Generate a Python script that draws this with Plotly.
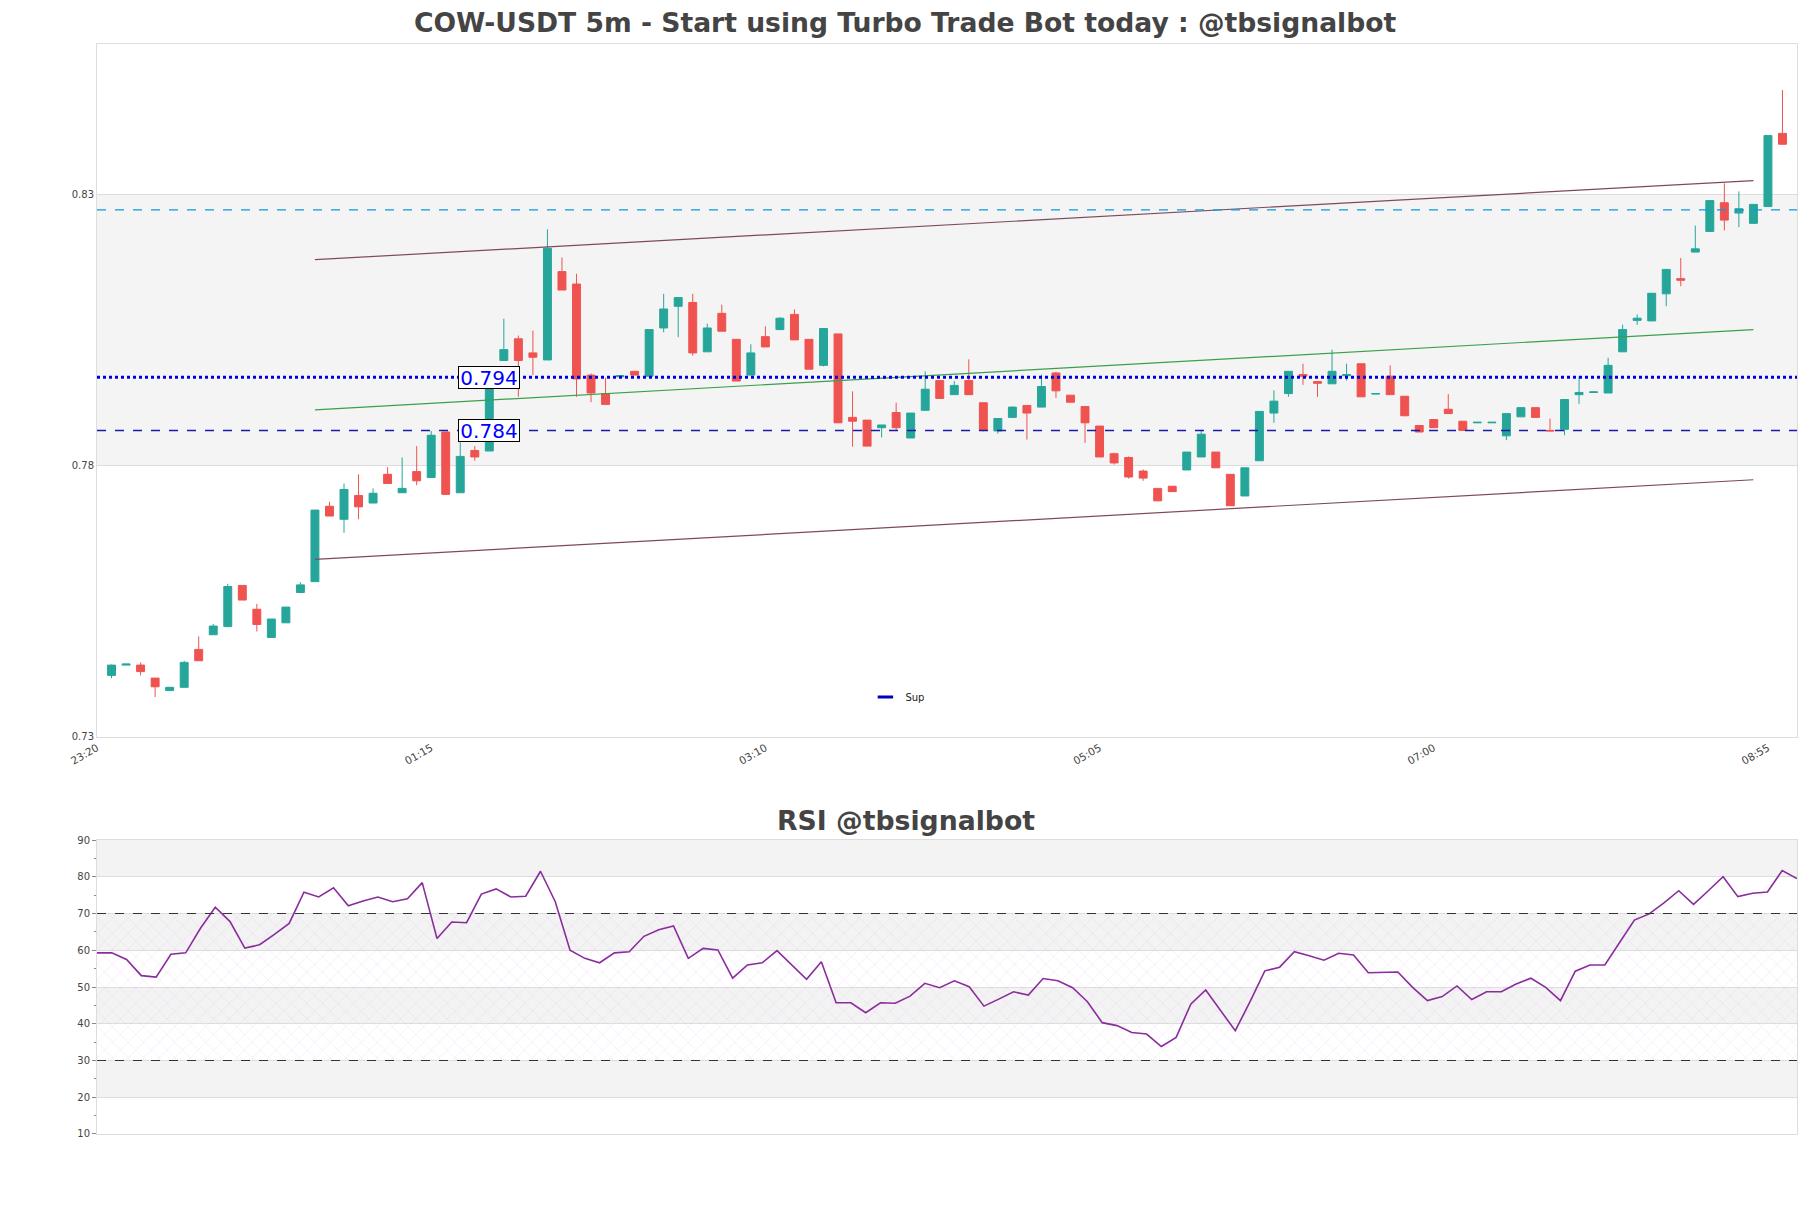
import pandas as pd
import plotly.graph_objects as go

# ---------------- data ----------------
start_time = "2024-11-14 23:25"
n_candles = 116

open_ = [0.7413, 0.7432, 0.7432, 0.7408, 0.7385, 0.7391, 0.7461, 0.7488, 0.7503, 0.7579,
         0.7535, 0.7483, 0.7510, 0.7566, 0.7586, 0.7725, 0.7701, 0.7745, 0.7731, 0.7784,
         0.7750, 0.7789, 0.7778, 0.7862, 0.7750, 0.7828, 0.7827, 0.7994, 0.8034, 0.8008,
         0.7995, 0.8158, 0.8135, 0.7967, 0.7933, 0.7964, 0.7974, 0.7965, 0.8054, 0.8094,
         0.8101, 0.8010, 0.8081, 0.8033, 0.7967, 0.8038, 0.8051, 0.8079, 0.8033, 0.7985,
         0.8043, 0.7889, 0.7884, 0.7870, 0.7898, 0.7851, 0.7902, 0.7957, 0.7931, 0.7957,
         0.7916, 0.7864, 0.7889, 0.7911, 0.7908, 0.7971, 0.7930, 0.7909, 0.7873, 0.7822,
         0.7815, 0.7790, 0.7758, 0.7762, 0.7792, 0.7816, 0.7825, 0.7784, 0.7744, 0.7809,
         0.7897, 0.7933, 0.7968, 0.7955, 0.7951, 0.7966, 0.7988, 0.7932, 0.7965, 0.7928,
         0.7874, 0.7885, 0.7904, 0.7882, 0.7879, 0.7879, 0.7855, 0.7890, 0.7907, 0.7865,
         0.7867, 0.7931, 0.7935, 0.7934, 0.8010, 0.8068, 0.8067, 0.8117, 0.8145, 0.8194,
         0.8232, 0.8285, 0.8266, 0.8247, 0.8278, 0.8413]
high = [0.7433, 0.7434, 0.7437, 0.7408, 0.7391, 0.7440, 0.7485, 0.7508, 0.7582, 0.7579,
        0.7545, 0.7517, 0.7539, 0.7585, 0.7718, 0.7733, 0.7767, 0.7784, 0.7758, 0.7797,
        0.7815, 0.7836, 0.7864, 0.7862, 0.7846, 0.7836, 0.7975, 0.8071, 0.8040, 0.8049,
        0.8236, 0.8184, 0.8154, 0.7970, 0.7962, 0.7967, 0.7974, 0.8051, 0.8117, 0.8110,
        0.8117, 0.8062, 0.8097, 0.8033, 0.8024, 0.8057, 0.8074, 0.8088, 0.8033, 0.8053,
        0.8043, 0.7937, 0.7884, 0.7875, 0.7916, 0.7897, 0.7974, 0.7957, 0.7956, 0.7996,
        0.7916, 0.7887, 0.7909, 0.7911, 0.7968, 0.7973, 0.7930, 0.7909, 0.7873, 0.7824,
        0.7817, 0.7793, 0.7758, 0.7762, 0.7825, 0.7866, 0.7825, 0.7784, 0.7796, 0.7900,
        0.7939, 0.7974, 0.7988, 0.7955, 0.8014, 0.7988, 0.7988, 0.7933, 0.7985, 0.7928,
        0.7874, 0.7885, 0.7932, 0.7882, 0.7880, 0.7880, 0.7896, 0.7907, 0.7907, 0.7887,
        0.7922, 0.7965, 0.7936, 0.7999, 0.8060, 0.8079, 0.8118, 0.8162, 0.8183, 0.8243,
        0.8289, 0.8321, 0.8306, 0.8282, 0.8409, 0.8493]
low = [0.7408, 0.7432, 0.7413, 0.7373, 0.7385, 0.7391, 0.7440, 0.7488, 0.7502, 0.7552,
       0.7494, 0.7483, 0.7510, 0.7566, 0.7586, 0.7707, 0.7676, 0.7701, 0.7731, 0.7767,
       0.7750, 0.7764, 0.7778, 0.7746, 0.7750, 0.7809, 0.7827, 0.7994, 0.7927, 0.7967,
       0.7995, 0.8124, 0.7927, 0.7917, 0.7913, 0.7964, 0.7967, 0.7965, 0.8046, 0.8037,
       0.8003, 0.8010, 0.8048, 0.7956, 0.7967, 0.8019, 0.8050, 0.8032, 0.7978, 0.7983,
       0.7879, 0.7835, 0.7836, 0.7852, 0.7865, 0.7851, 0.7902, 0.7923, 0.7931, 0.7931,
       0.7863, 0.7859, 0.7889, 0.7848, 0.7908, 0.7925, 0.7917, 0.7842, 0.7816, 0.7802,
       0.7776, 0.7772, 0.7735, 0.7752, 0.7792, 0.7816, 0.7796, 0.7726, 0.7744, 0.7809,
       0.7879, 0.7927, 0.7949, 0.7927, 0.7951, 0.7957, 0.7927, 0.7932, 0.7931, 0.7892,
       0.7862, 0.7870, 0.7896, 0.7865, 0.7879, 0.7879, 0.7847, 0.7890, 0.7889, 0.7864,
       0.7856, 0.7914, 0.7935, 0.7934, 0.8010, 0.8060, 0.8067, 0.8094, 0.8131, 0.8194,
       0.8232, 0.8234, 0.8240, 0.8247, 0.8278, 0.8393]
close = [0.7432, 0.7434, 0.7420, 0.7392, 0.7391, 0.7437, 0.7440, 0.7504, 0.7577, 0.7552,
         0.7507, 0.7517, 0.7539, 0.7580, 0.7718, 0.7707, 0.7756, 0.7724, 0.7749, 0.7767,
         0.7758, 0.7772, 0.7856, 0.7747, 0.7817, 0.7816, 0.7975, 0.8014, 0.7994, 0.8000,
         0.8201, 0.8124, 0.7960, 0.7934, 0.7913, 0.7966, 0.7967, 0.8051, 0.8089, 0.8110,
         0.8008, 0.8054, 0.8048, 0.7956, 0.8008, 0.8019, 0.8072, 0.8032, 0.7978, 0.8053,
         0.7879, 0.7882, 0.7836, 0.7875, 0.7870, 0.7897, 0.7941, 0.7924, 0.7948, 0.7931,
         0.7865, 0.7887, 0.7908, 0.7897, 0.7946, 0.7938, 0.7917, 0.7879, 0.7816, 0.7805,
         0.7779, 0.7777, 0.7735, 0.7752, 0.7825, 0.7858, 0.7796, 0.7726, 0.7796, 0.7900,
         0.7919, 0.7974, 0.7965, 0.7952, 0.7974, 0.7968, 0.7927, 0.7933, 0.7931, 0.7892,
         0.7862, 0.7870, 0.7896, 0.7865, 0.7880, 0.7880, 0.7896, 0.7907, 0.7889, 0.7864,
         0.7922, 0.7935, 0.7936, 0.7985, 0.8051, 0.8072, 0.8118, 0.8162, 0.8142, 0.8200,
         0.8289, 0.8253, 0.8274, 0.8282, 0.8409, 0.8393]

rsi = [59.3, 59.3, 57.5, 53.1, 52.7, 58.9, 59.3, 66.0, 71.7, 67.8,
       60.6, 61.5, 64.3, 67.3, 75.8, 74.5, 77.0, 72.1, 73.4, 74.5,
       73.2, 74.0, 78.4, 63.2, 67.7, 67.5, 75.3, 76.7, 74.5, 74.7,
       81.5, 73.2, 60.0, 57.8, 56.6, 59.3, 59.6, 63.8, 65.6, 66.6,
       57.8, 60.5, 60.1, 52.4, 56.0, 56.6, 59.9, 56.0, 52.1, 56.9,
       45.7, 45.7, 43.0, 45.7, 45.6, 47.5, 51.0, 49.8, 51.7, 50.1,
       44.8, 46.7, 48.7, 47.8, 52.3, 51.7, 49.8, 46.0, 40.3, 39.5,
       37.6, 37.2, 33.8, 36.3, 45.4, 49.2, 43.7, 38.1, 46.0, 54.4,
       55.4, 59.6, 58.5, 57.3, 59.2, 58.7, 53.9, 54.1, 54.1, 49.9,
       46.3, 47.4, 50.3, 46.6, 48.7, 48.7, 50.8, 52.4, 49.9, 46.3,
       54.3, 56.0, 56.0, 62.1, 68.2, 69.9, 72.9, 76.2, 72.5, 76.2,
       80.0, 74.6, 75.5, 75.85, 81.7, 79.5]

# horizontal levels
res_level = 0.7963          # dotted blue line
sup_level = 0.7865          # dashed dark-blue line ("Sup")
top_level = 0.8272          # dashed light-blue line
res_label = "0.794"
sup_label = "0.784"
label_candle = 26

# regression channel (candle index, price)
chan_i0, chan_i1 = 14, 113
chan_upper = [0.8180, 0.8326]
chan_mid = [0.7903, 0.8051]
chan_lower = [0.7627, 0.7774]

y_range = [0.72993, 0.85779]
y_ticks = [0.73, 0.78, 0.83]
x_tick_labels = ["23:20", "01:15", "03:10", "05:05", "07:00", "08:55"]
rsi_ticks = [10, 20, 30, 40, 50, 60, 70, 80, 90]

title_text = "COW-USDT 5m - Start using Turbo Trade Bot today : @tbsignalbot"
rsi_title = "RSI @tbsignalbot"

# ---------------- build ----------------
t0 = pd.Timestamp(start_time)
step = pd.Timedelta(minutes=5)
times = [t0 + step * i for i in range(n_candles)]
day0 = t0.normalize()


def tick_time(lbl):
    hh, mm = map(int, lbl.split(":"))
    t = day0 + pd.Timedelta(hours=hh, minutes=mm)
    if t < t0 - step * 2:
        t += pd.Timedelta(days=1)
    return t


x_tickvals = [tick_time(s) for s in x_tick_labels]

FONT = "DejaVu Sans"
GREY = "#444444"
UP = "#26a69a"
DOWN = "#ef5350"

fig = go.Figure()

# RSI hatch region 30-70 (drawn first so line is on top)
fig.add_trace(go.Scatter(
    x=[times[0], times[-1], times[-1], times[0], times[0]],
    y=[30, 30, 70, 70, 30],
    fill="toself", mode="none", hoverinfo="skip", showlegend=False,
    fillcolor="rgba(0,0,0,0)",
    fillpattern=dict(shape="x", fgcolor="rgba(215,165,235,0.6)", bgcolor="rgba(0,0,0,0)",
                     size=11, solidity=0.1),
    xaxis="x2", yaxis="y2",
))

fig.add_trace(go.Candlestick(
    x=times, open=open_, high=high, low=low, close=close,
    increasing=dict(line=dict(color=UP, width=1), fillcolor=UP),
    decreasing=dict(line=dict(color=DOWN, width=1), fillcolor=DOWN),
    showlegend=False, xaxis="x", yaxis="y",
))

# regression channel
for vals, col in [(chan_upper, "#7d4a5c"), (chan_mid, "#3aa04a"), (chan_lower, "#7d4a5c")]:
    fig.add_trace(go.Scatter(
        x=[times[chan_i0], times[chan_i1]], y=vals, mode="lines",
        line=dict(color=col, width=1.2), showlegend=False, hoverinfo="skip",
        xaxis="x", yaxis="y",
    ))

# legend-only entry
fig.add_trace(go.Scatter(
    x=[None], y=[None], mode="markers", name="Sup",
    marker=dict(symbol="line-ew-open", size=11, color="#0000c0",
                line=dict(color="#0000c0", width=3)),
    xaxis="x", yaxis="y",
))

# RSI line
fig.add_trace(go.Scatter(
    x=times, y=rsi, mode="lines", line=dict(color="#8a2d9c", width=1.6),
    showlegend=False, xaxis="x2", yaxis="y2",
))

shapes = []
# background bands
shapes.append(dict(type="rect", xref="x domain", yref="y", x0=0, x1=1, y0=0.78, y1=0.83,
                   fillcolor="#f4f4f4", line=dict(width=0), layer="below"))
for lo, hi in [(80, 90), (60, 70), (40, 50), (20, 30)]:
    shapes.append(dict(type="rect", xref="x2 domain", yref="y2", x0=0, x1=1, y0=lo, y1=hi,
                       fillcolor="#f3f3f3", line=dict(width=0), layer="below"))
# horizontal levels
shapes.append(dict(type="line", xref="x domain", yref="y", x0=0, x1=1, y0=top_level, y1=top_level,
                   line=dict(color="#0f96dc", width=1.3, dash="dash")))
shapes.append(dict(type="line", xref="x domain", yref="y", x0=0, x1=1, y0=res_level, y1=res_level,
                   line=dict(color="#0000dd", width=3, dash="dot")))
shapes.append(dict(type="line", xref="x domain", yref="y", x0=0, x1=1, y0=sup_level, y1=sup_level,
                   line=dict(color="#1a1aa8", width=1.5, dash="dash")))
for lvl in (70, 30):
    shapes.append(dict(type="line", xref="x2 domain", yref="y2", x0=0, x1=1, y0=lvl, y1=lvl,
                       line=dict(color="#333333", width=1.2, dash="dash")))

annotations = []
for lvl, txt in [(res_level, res_label), (sup_level, sup_label)]:
    annotations.append(dict(
        x=times[label_candle], y=lvl, xref="x", yref="y", text=txt, showarrow=False,
        font=dict(family=FONT, size=20, color="#0000ff"),
        bgcolor="white", bordercolor="black", borderwidth=1, borderpad=1,
        width=58, height=19,
        xanchor="center", yanchor="middle",
    ))
annotations.append(dict(
    x=0.4756, y=0.288, xref="paper", yref="paper", text="<b>%s</b>" % rsi_title,
    showarrow=False, font=dict(family=FONT, size=26.7, color=GREY),
    xanchor="center", yanchor="middle",
))
annotations.append(dict(
    x=0.4756, y=1.0193, xref="paper", yref="paper", text="<b>%s</b>" % title_text,
    showarrow=False, font=dict(family=FONT, size=26.6, color=GREY),
    xanchor="center", yanchor="middle",
))

axis_common = dict(showline=True, mirror=True, linecolor="#dddddd", linewidth=1, zeroline=False)

fig.update_layout(
    width=1811, height=1208,
    margin=dict(l=97, r=14, t=44, b=74),
    paper_bgcolor="white", plot_bgcolor="white",
    font=dict(family=FONT, size=10, color=GREY),
    shapes=shapes, annotations=annotations,
    showlegend=True,
    boxgap=0.22,
    legend=dict(orientation="h", x=0.452, xanchor="left", y=0.401, yanchor="middle",
                bgcolor="rgba(0,0,0,0)", font=dict(family=FONT, size=10, color="#222"),
                itemwidth=30),
    xaxis=dict(domain=[0, 1], anchor="y", type="date",
               range=[t0 - step, t0 + step * n_candles],
               tickvals=x_tickvals, ticktext=x_tick_labels, tickangle=-30,
               showgrid=False, rangeslider=dict(visible=False),
               tickfont=dict(size=10.5, color=GREY), ticks="", **axis_common),
    yaxis=dict(domain=[0.3642, 1], anchor="x", range=y_range, tickvals=y_ticks,
               ticktext=["%.2f" % v for v in y_ticks],
               showgrid=True, gridcolor="#dddddd", gridwidth=1,
               tickfont=dict(size=10, color=GREY), ticks="", **axis_common),
    xaxis2=dict(domain=[0, 1], anchor="y2", type="date",
                range=[times[0], times[-1]], showticklabels=False, showgrid=False,
                ticks="", **axis_common),
    yaxis2=dict(domain=[0, 0.2697], anchor="x2", range=[10, 90], tickvals=rsi_ticks,
                showgrid=True, gridcolor="#dddddd", gridwidth=1,
                ticks="outside", ticklen=4, tickcolor="#888", tickwidth=1,
                minor=dict(ticks="outside", ticklen=2, dtick=5, tickcolor="#888", showgrid=False),
                tickfont=dict(size=10, color=GREY), **axis_common),
)

fig.write_html("out.html")
